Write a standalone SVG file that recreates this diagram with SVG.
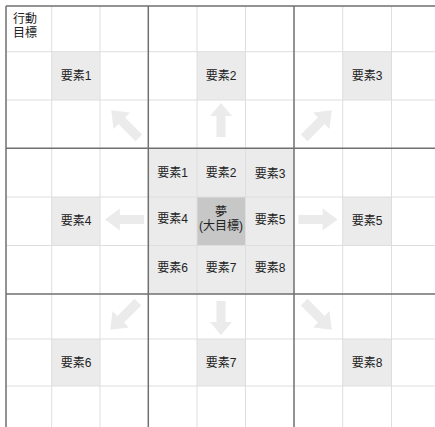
<svg xmlns="http://www.w3.org/2000/svg" width="435" height="427" viewBox="0 0 435 427">
<style>
.bg{fill:#ffffff}
.cell{fill:#ebebeb}
.core{fill:#c7c7c7}
.thin{stroke:#dedede;stroke-width:1;fill:none}
.thick{stroke:#707070;stroke-width:1.5;fill:none}
.arrow{fill:#ebebeb}
text{font-family:"Liberation Sans","Noto Sans CJK JP",sans-serif;font-size:12px;fill:#222;text-anchor:middle;dominant-baseline:central}
</style>
<defs>
<path id="arr" d="M0,-17 L11,-4 L4.5,-4 L4.5,17 L-4.5,17 L-4.5,-4 L-11,-4 Z"/>
</defs>
<rect class="bg" x="0" y="0" width="435" height="427"/>
<g id="fills">
<rect class="cell" x="51.7" y="51.7" width="48.3" height="48.3"/>
<rect class="cell" x="197" y="51.7" width="48.5" height="48.3"/>
<rect class="cell" x="342.7" y="51.7" width="48.8" height="48.3"/>
<rect class="cell" x="51.7" y="197" width="48.3" height="48.5"/>
<rect class="cell" x="342.7" y="197" width="48.8" height="48.5"/>
<rect class="cell" x="51.7" y="339" width="48.3" height="47"/>
<rect class="cell" x="197" y="339" width="48.5" height="47"/>
<rect class="cell" x="342.7" y="339" width="48.8" height="47"/>
<rect class="cell" x="148.3" y="148.3" width="145.7" height="145.7"/>
<rect class="core" x="197" y="197" width="48.5" height="48.5"/>
</g>
<g id="grid">
<path class="thin" d="M51.7,6V427M100,6V427M197,6V427M245.5,6V427M342.7,6V427M391.5,6V427"/>
<path class="thin" d="M6,51.7H435M6,100H435M6,197H435M6,245.5H435M6,339H435M6,386H435"/>
<path class="thick" d="M6,6V427M148.3,6V427M294,6V427"/>
<path class="thick" d="M6,6H435M6,148.3H435M6,294H435"/>
</g>
<g id="connectors">
<use href="#arr" class="arrow" transform="translate(125,124) rotate(-45) scale(1.05,1.15)"/>
<use href="#arr" class="arrow" transform="translate(221,120)"/>
<use href="#arr" class="arrow" transform="translate(318,124) rotate(45) scale(1.05,1.15)"/>
<use href="#arr" class="arrow" transform="translate(124.5,219.5) rotate(-90) scale(1,1.15)"/>
<use href="#arr" class="arrow" transform="translate(318,219.5) rotate(90) scale(1,1.15)"/>
<use href="#arr" class="arrow" transform="translate(124,316) rotate(-135) scale(1.05,1.15)"/>
<use href="#arr" class="arrow" transform="translate(221,318) rotate(180)"/>
<use href="#arr" class="arrow" transform="translate(318,316) rotate(135) scale(1.05,1.15)"/>
</g>
<g id="label-goal"><text x="25" y="19">行動</text><text x="25" y="33">目標</text></g>
<g id="n1"><text x="76" y="76">要素1</text></g>
<g id="n2"><text x="221" y="76">要素2</text></g>
<g id="n3"><text x="367" y="76">要素3</text></g>
<g id="n4"><text x="76" y="221">要素4</text></g>
<g id="n5"><text x="367" y="221">要素5</text></g>
<g id="n6"><text x="76" y="362.5">要素6</text></g>
<g id="n7"><text x="221" y="362.5">要素7</text></g>
<g id="n8"><text x="367" y="362.5">要素8</text></g>
<g id="c1"><text x="172.5" y="172.5">要素1</text></g>
<g id="c2"><text x="221" y="172.5">要素2</text></g>
<g id="c3"><text x="270" y="173.5">要素3</text></g>
<g id="c4"><text x="172.5" y="219">要素4</text></g>
<g id="core"><text x="221" y="212">夢</text><text x="221" y="226">(大目標)</text></g>
<g id="c5"><text x="270" y="220">要素5</text></g>
<g id="c6"><text x="172.5" y="268">要素6</text></g>
<g id="c7"><text x="221" y="268">要素7</text></g>
<g id="c8"><text x="270" y="268">要素8</text></g>
</svg>
